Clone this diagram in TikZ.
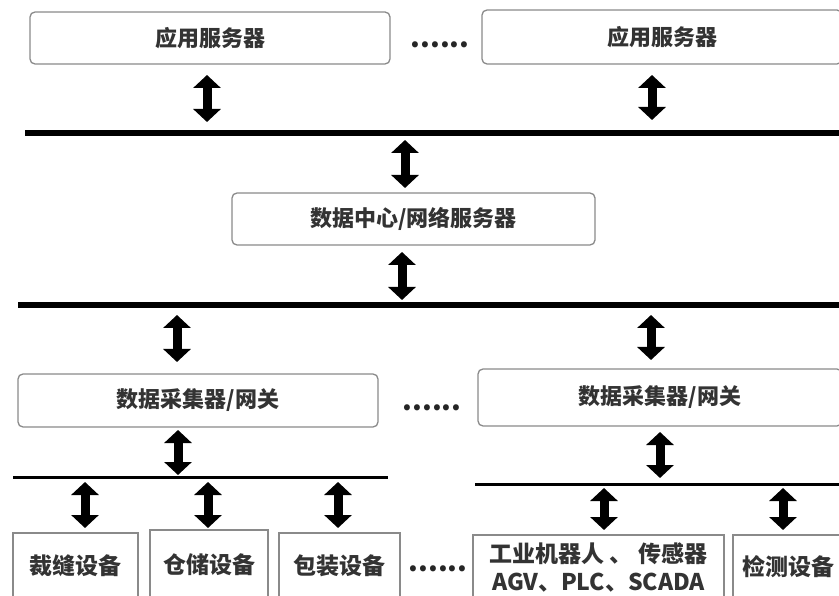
\documentclass[tikz,border=0pt]{standalone}
\usepackage{fontspec}
\newfontfamily\cjk{Noto Sans CJK SC}
\usetikzlibrary{arrows.meta}
\definecolor{txt}{HTML}{333333}
\definecolor{edge}{HTML}{8A8A8A}
\tikzset{
  box/.style={draw=edge, line width=1.3pt, rounded corners=5pt, fill=white, minimum width=#1, inner sep=0pt, font=\cjk\bfseries\fontsize{22}{26}\selectfont, text=txt},
  devbox/.style={draw=edge, line width=1.3pt, fill=white, minimum width=#1, inner sep=0pt, font=\cjk\bfseries\fontsize{23}{28}\selectfont, text=txt, align=center},
  bus/.style={line width=6pt, black},
  thinbus/.style={line width=3pt, black},
  dbl/.style={line width=9pt, black, {Triangle[length=13pt,width=27pt]}-{Triangle[length=13pt,width=27pt]}},
  dots/.style={font=\cjk\bfseries\fontsize{28}{30}\selectfont, text=black!85, inner sep=0pt, anchor=base}
}
\begin{document}
\begin{tikzpicture}[x=1pt,y=-1pt]
\useasboundingbox (0,0) rectangle (839,596);
% boxes
\node[box=360pt, minimum height=52pt] (app1) at (210,38) {应用服务器};
\node[box=360pt, minimum height=54pt] (app2) at (662,37) {应用服务器};
\node[dots] (dt1) at (440,48) {......};
\node[box=363pt, minimum height=52pt] (dc) at (413.5,219) {数据中心/网络服务器};
\node[box=360pt, minimum height=53pt] (gw1) at (198,400.5) {数据采集器/网关};
\node[box=364pt, minimum height=57pt] (gw2) at (660,397.5) {数据采集器/网关};
\node[dots] (dt2) at (432,410) {......};
\node[devbox=125pt, minimum height=66pt] (d1) at (75.5,566) {裁缝设备};
\node[devbox=118pt, minimum height=69pt] (d2) at (209,564.5) {仓储设备};
\node[devbox=121pt, minimum height=66pt] (d3) at (339.5,566) {包装设备};
\node[dots] (dt3) at (438,571) {......};
\node[devbox=251pt, minimum height=64pt] (d4) at (598.5,567) {工业机器人 、 传感器\\AGV、PLC、SCADA};
\node[devbox=110pt, minimum height=64pt] (d5) at (788,567) {检测设备};
% buses
\coordinate (b1l) at (25,133); \coordinate (b1r) at (839,133);
\coordinate (b2l) at (18,305); \coordinate (b2r) at (839,305);
\coordinate (b3l) at (13,477); \coordinate (b3r) at (388,477);
\coordinate (b4l) at (475,484); \coordinate (b4r) at (839,484);
\draw[bus] (b1l) -- (b1r);
\draw[bus] (b2l) -- (b2r);
\draw[thinbus] (b3l) -- (b3r);
\draw[thinbus] (b4l) -- (b4r);
% arrows
\draw[dbl] (207,75) -- (207,122);
\draw[dbl] (652,75) -- (652,120);
\draw[dbl] (405,140) -- (405,188);
\draw[dbl] (402,252) -- (402,300);
\draw[dbl] (177,315) -- (177,362);
\draw[dbl] (651,315) -- (651,360);
\draw[dbl] (178,430) -- (178,475);
\draw[dbl] (85,482) -- (85,528);
\draw[dbl] (208,482) -- (208,528);
\draw[dbl] (338,482) -- (338,528);
\draw[dbl] (660,432) -- (660,478);
\draw[dbl] (604,488) -- (604,530);
\draw[dbl] (783,488) -- (783,530);
\end{tikzpicture}
\end{document}
